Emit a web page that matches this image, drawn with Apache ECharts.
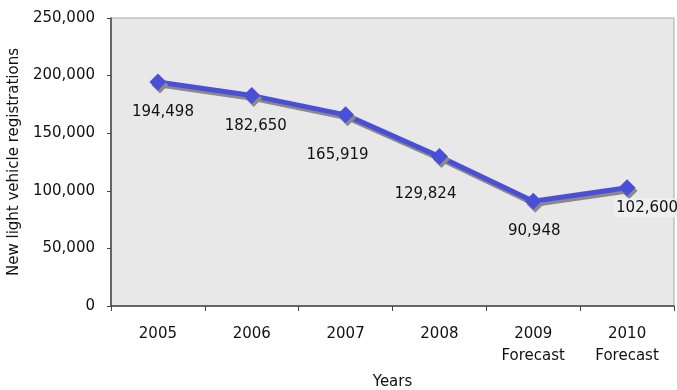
<!DOCTYPE html>
<html>
<head>
<meta charset="utf-8">
<script src="https://cdn.jsdelivr.net/npm/echarts@6/dist/echarts.min.js"></script>
<style>
  html, body { margin: 0; padding: 0; background: #fff; }
  #chart { width: 677px; height: 390px; }
</style>
</head>
<body>
<div id="chart"></div>
<script>
// New light vehicle registrations by year (last two years are forecasts)
const years = ['2005', '2006', '2007', '2008', '2009\nForecast', '2010\nForecast'];
const registrations = [194498, 182650, 165919, 129824, 90948, 102600];
// Where each value label sits relative to its marker, in pixels
const labelOffsets = [[5, 30], [4, 31], [-8, 40], [-14, 38], [1, 30], [20, 20]];

const yTicks = { min: 0, max: 250000, interval: 50000 };

const FONT = 'DejaVu Sans';
const fmt = v => v.toLocaleString('en-US');

const chart = echarts.init(document.getElementById('chart'), null, { renderer: 'canvas' });

chart.setOption({
  animation: false,
  textStyle: { fontFamily: FONT },
  grid: {
    left: 111, right: 3, top: 18, bottom: 84,
    outerBoundsMode: 'none',
    containLabel: false,
    show: true, backgroundColor: '#e8e8e8',
    borderColor: '#a8a8a8', borderWidth: 1
  },
  xAxis: {
    type: 'category',
    data: years,
    boundaryGap: true,
    name: 'Years',
    nameLocation: 'middle',
    nameGap: 69,
    nameTextStyle: { fontFamily: FONT, fontSize: 15, color: '#111' },
    axisLine: { lineStyle: { color: '#444', width: 1.5 } },
    axisTick: { show: true, length: 5, lineStyle: { color: '#444' } },
    axisLabel: { fontFamily: FONT, fontSize: 15, color: '#111', margin: 17, lineHeight: 22 },
    splitLine: { show: false }
  },
  yAxis: {
    type: 'value',
    min: yTicks.min, max: yTicks.max, interval: yTicks.interval,
    name: 'New light vehicle registrations',
    nameLocation: 'middle',
    nameGap: 78,
    nameTextStyle: { fontFamily: FONT, fontSize: 15, color: '#111' },
    axisLine: { show: true, lineStyle: { color: '#444', width: 1.5 } },
    axisTick: { show: true, length: 4, lineStyle: { color: '#444' } },
    axisLabel: { fontFamily: FONT, fontSize: 15, color: '#111', margin: 16, formatter: fmt },
    splitLine: { show: false }
  },
  series: [{
    type: 'line',
    data: registrations.map((v, i) => ({
      value: v,
      label: i === registrations.length - 1
        ? { offset: labelOffsets[i], backgroundColor: '#efefef', padding: [2, 2] }
        : { offset: labelOffsets[i] }
    })),
    symbol: 'diamond',
    symbolSize: 17,
    lineStyle: {
      color: '#4a4fd8', width: 5,
      shadowColor: '#8a8a8a', shadowOffsetX: 2, shadowOffsetY: 3, shadowBlur: 0
    },
    itemStyle: {
      color: '#4a4fd8', borderWidth: 0,
      shadowColor: '#8a8a8a', shadowOffsetX: 2, shadowOffsetY: 3, shadowBlur: 0
    },
    label: {
      show: true,
      position: 'inside',
      fontFamily: FONT, fontSize: 15, color: '#111',
      formatter: p => fmt(p.value)
    },
    emphasis: { disabled: true },
    z: 3
  }]
});
</script>
</body>
</html>
